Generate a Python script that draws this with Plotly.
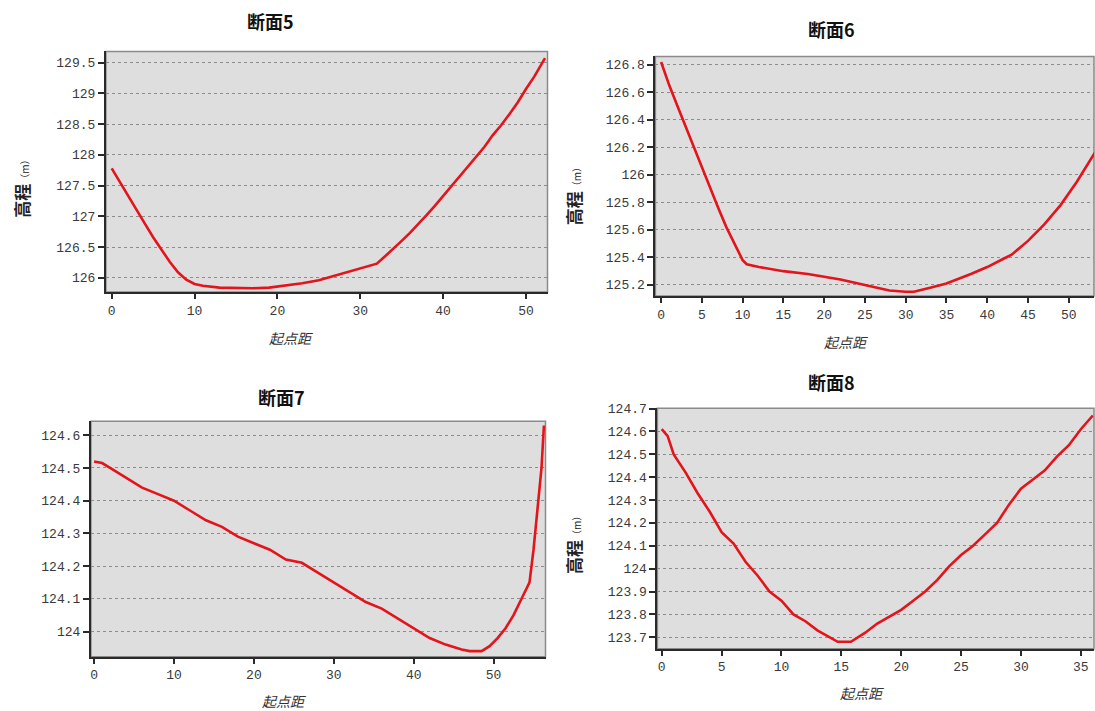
import plotly.graph_objects as go

# ---------------- data ----------------
titles = ["断面5", "断面6", "断面7", "断面8"]
x_title = "起点距"
y_title = "高程（m）"

dist5 = [0, 1, 2, 3, 4, 5, 6, 7, 8, 9, 10, 11, 13, 15, 17, 19, 21, 23, 25, 27, 29, 31, 32, 33, 34,
         35, 36, 37, 38, 39, 40, 41, 42, 43, 44, 45, 46, 47, 48, 49, 50, 51, 52.3]
elev5 = [127.78, 127.55, 127.33, 127.1, 126.88, 126.66, 126.45, 126.26, 126.09, 125.97, 125.9, 125.87,
         125.84, 125.83, 125.83, 125.84, 125.87, 125.91, 125.96, 126.04, 126.11, 126.19, 126.23, 126.35,
         126.47, 126.6, 126.73, 126.87, 127.02, 127.17, 127.33, 127.48, 127.64, 127.8, 127.96, 128.13,
         128.32, 128.48, 128.66, 128.85, 129.07, 129.27, 129.57]

dist6 = [0, 1, 2, 3, 4, 5, 6, 7, 8, 9, 10, 10.5, 12, 15, 18, 20, 22, 25, 28, 30, 31, 33, 35, 38, 40,
         42, 43, 45, 47, 49, 51, 53.2]
elev6 = [126.82, 126.65, 126.5, 126.35, 126.2, 126.06, 125.9, 125.76, 125.62, 125.5, 125.38, 125.35,
         125.33, 125.3, 125.28, 125.26, 125.24, 125.2, 125.16, 125.15, 125.15, 125.18, 125.21, 125.28,
         125.33, 125.39, 125.42, 125.52, 125.64, 125.78, 125.95, 126.16]

dist7 = [0, 1, 2, 4, 6, 8, 10, 12, 14, 16, 18, 20, 22, 24, 26, 28, 30, 32, 34, 36, 38, 40, 42, 44, 46,
         47, 48.5, 49.5, 50.5, 51.5, 52.5, 53.5, 54.5, 55, 55.5, 56, 56.3]
elev7 = [124.52, 124.515, 124.5, 124.47, 124.44, 124.42, 124.4, 124.37, 124.34, 124.32, 124.29, 124.27,
         124.25, 124.22, 124.21, 124.18, 124.15, 124.12, 124.09, 124.07, 124.04, 124.01, 123.98, 123.96,
         123.945, 123.94, 123.94, 123.955, 123.98, 124.01, 124.05, 124.1, 124.15, 124.25, 124.38, 124.5,
         124.63]

dist8 = [0, 0.5, 1, 2, 3, 4, 5, 6, 7, 8, 9, 10, 11, 12, 13, 14, 14.7, 15.8, 17, 18, 19, 20, 21, 22, 23,
         24, 25, 26, 27, 28, 29, 30, 31, 32, 33, 34, 35, 36]
elev8 = [124.61, 124.58, 124.5, 124.42, 124.33, 124.25, 124.16, 124.11, 124.03, 123.97, 123.9, 123.86,
         123.8, 123.77, 123.73, 123.7, 123.68, 123.68, 123.72, 123.76, 123.79, 123.82, 123.86, 123.9,
         123.95, 124.01, 124.06, 124.1, 124.15, 124.2, 124.28, 124.35, 124.39, 124.43, 124.49, 124.54,
         124.61, 124.67]

series = [(dist5, elev5), (dist6, elev6), (dist7, elev7), (dist8, elev8)]

# ---------------- layout ----------------
W, H = 1095, 711

def fx(p):
    return p / W

def fy(p):
    q = (p - 6.66) / 0.9895
    return 1 - q / H

# plot boxes in pixels: left, right, top, bottom
boxes = [(105, 547, 52, 292), (655, 1094, 57, 296), (90, 545, 421, 656), (657, 1094, 408, 648)]
xranges = [[-0.7, 52.6], [-0.7, 53.1], [-0.4, 56.5], [-0.36, 36.1]]
yranges = [[125.77, 129.68], [125.12, 126.86], [123.923, 124.643], [123.65, 124.702]]
xdticks = [10, 5, 10, 5]
ydticks = [0.5, 0.2, 0.1, 0.1]
title_pos = [(270, 22), (831, 30), (281, 397), (831, 382)]
xt_pos = [(290, 338), (846, 342), (283, 700), (862, 692)]
yt_pos = [(21, 186), (573, 194), None, (573, 542)]

fig = go.Figure()
tick_font = dict(family="Liberation Mono", size=13, color="#3a3a3a")

annotations = []
shapes = []
for i, (xs, ys) in enumerate(series):
    n = "" if i == 0 else str(i + 1)
    fig.add_trace(go.Scatter(x=xs, y=ys, mode="lines", xaxis="x" + n, yaxis="y" + n,
                             line=dict(color="#e3141b", width=2.6), showlegend=False,
                             hoverinfo="x+y"))
    l, r, t, b = boxes[i]
    fig.layout["xaxis" + n] = dict(
        domain=[fx(l), fx(r)], range=xranges[i], anchor="y" + n, dtick=xdticks[i], tick0=0,
        showgrid=False, zeroline=False, showline=True, linecolor="#2a2a2a", linewidth=2,
        ticks="outside", ticklen=5, tickwidth=2, tickcolor="#2a2a2a", tickfont=tick_font)
    fig.layout["yaxis" + n] = dict(
        domain=[fy(b), fy(t)], range=yranges[i], anchor="x" + n, dtick=ydticks[i], tick0=0,
        showgrid=True, gridcolor="#8c8c8c", griddash="dot", gridwidth=1,
        zeroline=False, showline=True, linecolor="#2a2a2a", linewidth=2,
        ticks="outside", ticklen=6, tickwidth=2, tickcolor="#2a2a2a", tickfont=tick_font)
    shapes.append(dict(type="rect", xref="paper", yref="paper", x0=fx(l), x1=fx(r), y0=fy(b), y1=fy(t),
                       line=dict(color="#8a8a8a", width=1.5), fillcolor="#dedede", layer="below"))
    tx, ty = title_pos[i]
    annotations.append(dict(text="<b>" + titles[i] + "</b>", x=fx(tx), y=fy(ty), xref="paper", yref="paper",
                            showarrow=False, xanchor="center", yanchor="middle",
                            font=dict(family="Noto Sans CJK SC", size=18, color="#111111")))
    ax, ay = xt_pos[i]
    annotations.append(dict(text="<i>" + x_title + "</i>", x=fx(ax), y=fy(ay), xref="paper", yref="paper",
                            showarrow=False, xanchor="center", yanchor="middle",
                            font=dict(family="Noto Sans CJK SC", size=14, color="#333333")))
    if yt_pos[i] is not None:
        yx, yy = yt_pos[i]
        annotations.append(dict(text="<b>" + y_title[:2] + "</b><span style='font-size:10px'>" + y_title[2:] + "</span>",
                                x=fx(yx), y=fy(yy), xref="paper", yref="paper", textangle=-90,
                                showarrow=False, xanchor="center", yanchor="middle",
                                font=dict(family="Noto Sans CJK SC", size=17, color="#222222")))

fig.update_layout(width=W, height=H, margin=dict(l=0, r=0, t=0, b=0),
                  paper_bgcolor="white", plot_bgcolor="rgba(0,0,0,0)",
                  annotations=annotations, shapes=shapes)

fig.write_html("out.html", config={"displayModeBar": False},
               post_script="document.body.style.margin='0';document.body.style.overflow='hidden';")
